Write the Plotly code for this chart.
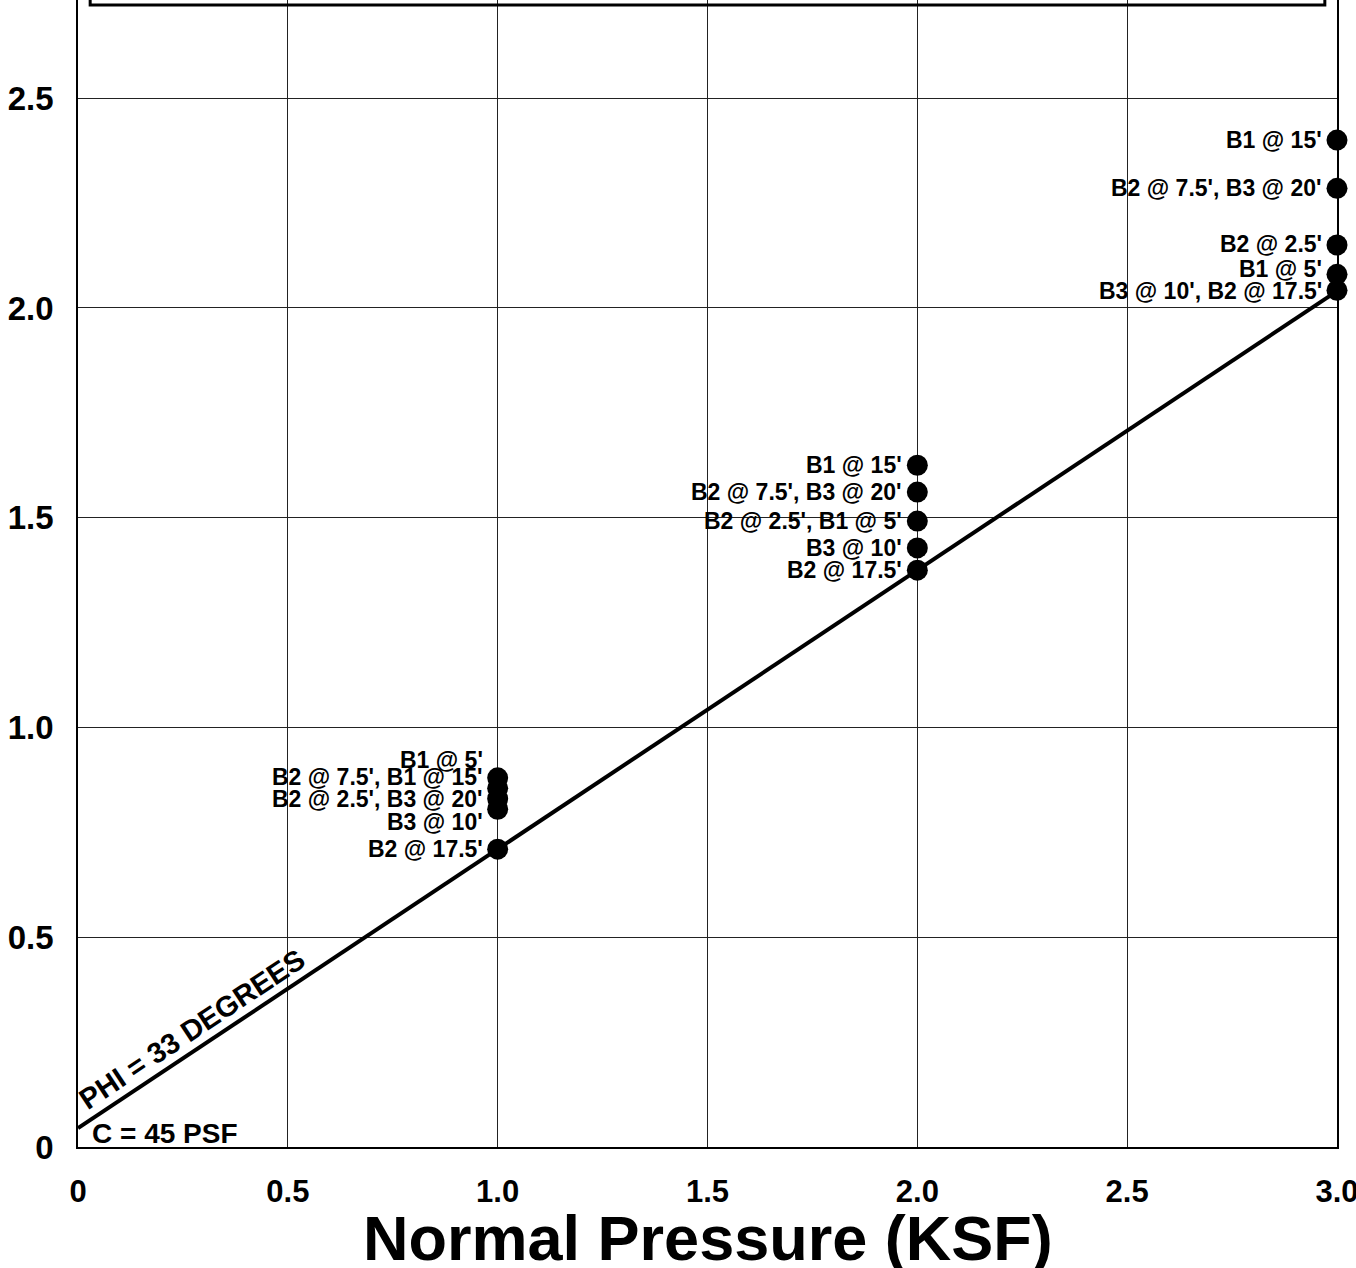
import plotly.graph_objects as go

# ---- data ----
normal_x = [3.0, 3.0, 3.0, 3.0, 3.0,
            2.0, 2.0, 2.0, 2.0, 2.0,
            1.0, 1.0, 1.0, 1.0, 1.0]
shear_y = [2.40, 2.285, 2.15, 2.08, 2.042,
           1.625, 1.561, 1.492, 1.428, 1.375,
           0.88, 0.855, 0.83, 0.805, 0.71]
point_labels = ["B1 @ 15'", "B2 @ 7.5', B3 @ 20'", "B2 @ 2.5'", "B1 @ 5'", "B3 @ 10', B2 @ 17.5'",
                "B1 @ 15'", "B2 @ 7.5', B3 @ 20'", "B2 @ 2.5', B1 @ 5'", "B3 @ 10'", "B2 @ 17.5'",
                "B1 @ 5'", "B2 @ 7.5', B1 @ 15'", "B2 @ 2.5', B3 @ 20'", "B3 @ 10'", "B2 @ 17.5'"]
label_yshift = [0, 0, 1, 5, -1,
                0, 0, 0, 0, 0,
                18, 11, 0, -13, 0]

cohesion_ksf = 0.045
fit_slope = 0.665
fit_x = [0.0, 3.0]
fit_y = [cohesion_ksf + fit_slope * v for v in fit_x]

x_ticks = [0, 0.5, 1.0, 1.5, 2.0, 2.5, 3.0]
x_ticktext = ["0", "0.5", "1.0", "1.5", "2.0", "2.5", "3.0"]
y_ticks = [0, 0.5, 1.0, 1.5, 2.0, 2.5]
y_ticktext = ["0", "0.5", "1.0", "1.5", "2.0", "2.5"]

FONT = "Liberation Sans, Arial, sans-serif"

fig = go.Figure()
fig.add_trace(go.Scatter(x=fit_x, y=fit_y, mode="lines",
                         line=dict(color="black", width=4), hoverinfo="skip",
                         showlegend=False, cliponaxis=False))
fig.add_trace(go.Scatter(x=normal_x, y=shear_y, mode="markers",
                         marker=dict(color="black", size=21),
                         showlegend=False, cliponaxis=False))

for xv, yv, t, ys in zip(normal_x, shear_y, point_labels, label_yshift):
    fig.add_annotation(x=xv, y=yv, text="<b>%s</b>" % t, showarrow=False,
                       xanchor="right", yanchor="middle", xshift=-13, yshift=ys,
                       font=dict(family=FONT, size=23, color="black"))

fig.add_annotation(x=0.272, y=0.282, text="<b>PHI = 33 DEGREES</b>", showarrow=False,
                   textangle=-33.6, xanchor="center", yanchor="middle",
                   font=dict(family=FONT, size=29, color="black"))
fig.add_annotation(x=0.028, y=0.033, text="<b>C = 45 PSF</b>", showarrow=False,
                   xanchor="left", yanchor="middle",
                   font=dict(family=FONT, size=28, color="black"))

# x axis title
fig.add_annotation(xref="paper", yref="paper", x=0.5, y=-0.079, yanchor="middle",
                   text="<b>Normal Pressure (KSF)</b>", showarrow=False,
                   font=dict(family=FONT, size=63, color="black"))

# top box (partially cropped)
fig.add_shape(type="rect", xref="x", yref="paper", x0=0.029, x1=2.971, y0=0.9956, y1=1.2,
              line=dict(color="black", width=3), fillcolor="rgba(0,0,0,0)")

fig.update_layout(
    width=1356, height=1268,
    margin=dict(l=78, r=19, t=0, b=121),
    paper_bgcolor="white", plot_bgcolor="white",
    font=dict(family=FONT, color="black"),
    xaxis=dict(range=[0, 3.0], tickvals=x_ticks, ticktext=["<b>%s</b>" % s for s in x_ticktext],
               tickfont=dict(size=31, family=FONT, color="black"),
               showgrid=True, gridcolor="#222", gridwidth=1, zeroline=False,
               showline=True, linecolor="black", linewidth=2, mirror=False,
               ticks="", ticklabelstandoff=16, automargin=False, ticklabeloverflow="allow"),
    yaxis=dict(range=[0, 2.734], tickvals=y_ticks, ticktext=["<b>%s</b>" % s for s in y_ticktext],
               tickfont=dict(size=33, family=FONT, color="black"),
               showgrid=True, gridcolor="#222", gridwidth=1, zeroline=False,
               showline=True, linecolor="black", linewidth=1.5, mirror=True,
               ticks="", ticklabelstandoff=16, automargin=False, ticklabeloverflow="allow"),
)

fig.write_html("out.html", config={"displayModeBar": False},
               post_script="document.body.style.margin='0';document.body.style.overflow='hidden';")
